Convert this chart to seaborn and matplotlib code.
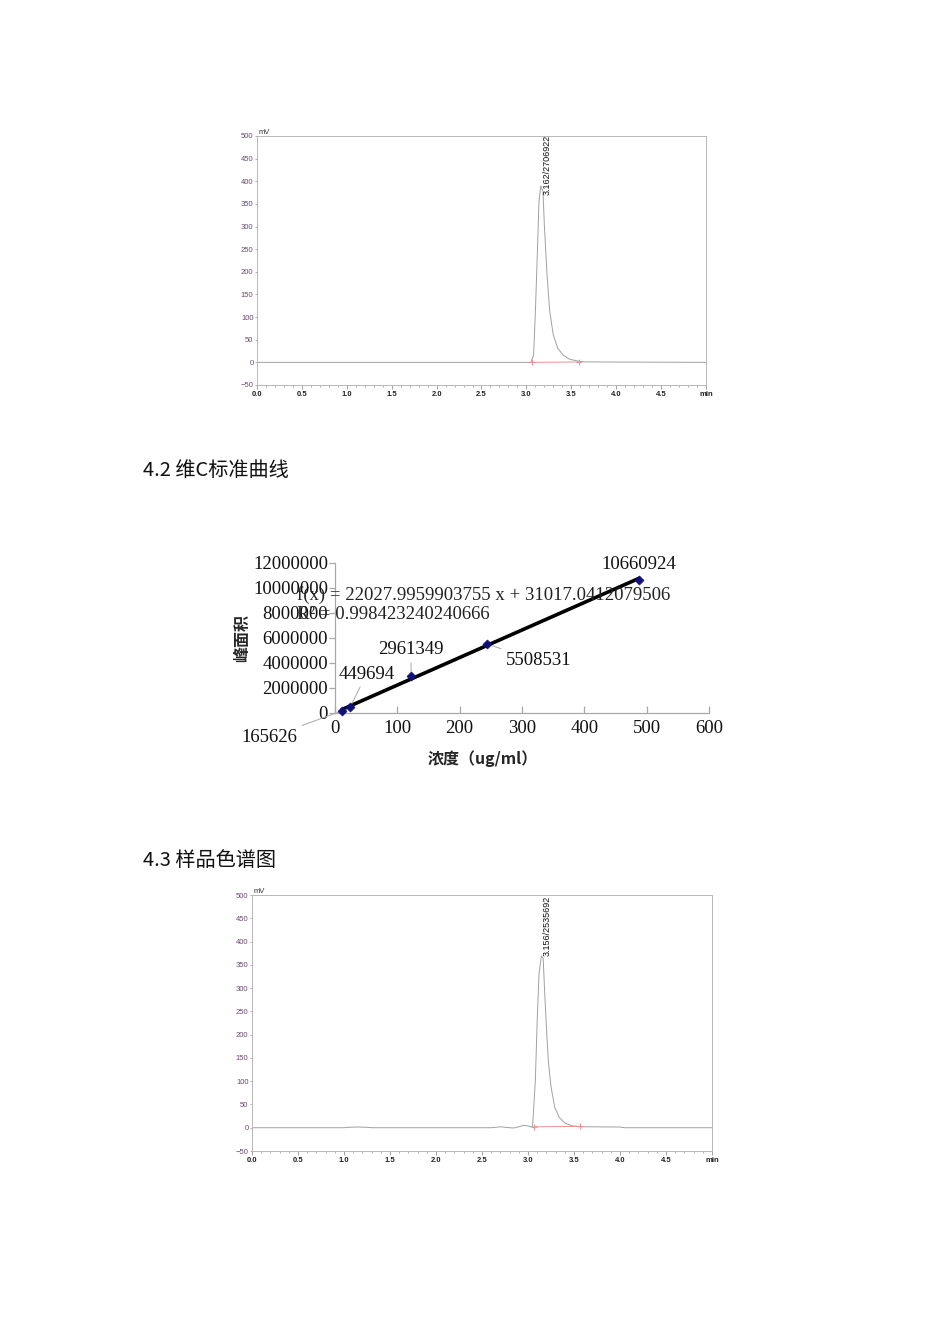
import numpy as np
import pandas as pd
import matplotlib
matplotlib.use('Agg')
import matplotlib.pyplot as plt
from matplotlib.ticker import MultipleLocator
import seaborn as sns

sns.set_theme(style='white')
plt.rcParams['font.family'] = ['Noto Sans CJK SC', 'DejaVu Sans']

# standard chromatogram (time in min, signal in mV)
std_time = [0.0, 3.05, 3.08, 3.10, 3.12, 3.14, 3.16, 3.185, 3.20, 3.23, 3.26,
            3.30, 3.35, 3.41, 3.48, 3.57, 3.65, 5.0]
std_signal = [0, 0, 16, 112, 230, 355, 390, 377, 303, 193, 112,
              60, 31, 16, 7, 3, 1, 0]
std_base_t = [3.06, 3.59]
std_base_v = [0, 1]
std_label = '3.162/2706922'

# sample chromatogram
smp_time = [0.0, 1.0, 1.05, 1.15, 1.25, 1.3, 2.6, 2.65, 2.7, 2.75, 2.8, 2.85,
            2.9, 2.95, 3.0, 3.03, 3.05, 3.08, 3.10, 3.12, 3.145, 3.165, 3.18,
            3.20, 3.22, 3.25, 3.29, 3.34, 3.40, 3.48, 3.57, 3.65, 4.0, 4.05, 5.0]
smp_signal = [0, 0, 1, 1.5, 1, 0, 0, 1, 2, 1, 0, -0.5,
              2, 5, 4, 2, 3, 102, 231, 331, 369, 364, 296,
              217, 145, 88, 44, 22, 10, 4, 2, 2, 1.5, 0, 0]
smp_base_t = [3.06, 3.57]
smp_base_v = [2, 3]
smp_label = '3.156/2535692'

# vitamin C standard curve
conc = [11, 24, 122, 244, 488]
area = [165626, 449694, 2961349, 5508531, 10660924]
slope = 22027.9959903755
intercept = 31017.0412079506
r2_text = '0.998423240240666'
# label offsets (points) for each data label
lab_dx = [-52, 12, 0, 37, 0]
lab_dy = [-19, 24, 19, -12, 11]
lab_leader = [True, True, True, True, False]

W, H = 950, 1344
fig = plt.figure(figsize=(W / 100, H / 100), dpi=100)
fig.patch.set_facecolor('white')


def chromatogram(rect, t, v, bt, bv, label, lab_off):
    ax = fig.add_axes(rect)
    df = pd.DataFrame({'t': t, 'v': v})
    sns.lineplot(data=df, x='t', y='v', ax=ax, color='#a0a0a0', lw=0.7,
                 estimator=None, sort=False)
    ax.plot(bt, bv, color='#f09090', lw=0.7, marker='+', ms=4, mew=0.7)
    ax.set_xlim(0, 5.0)
    ax.set_ylim(-50, 500)
    ax.set_xlabel('')
    ax.set_ylabel('')
    ax.xaxis.set_minor_locator(MultipleLocator(0.1))
    ax.yaxis.set_major_locator(MultipleLocator(50))
    ticks = np.arange(0, 5.01, 0.5)
    ax.set_xticks(ticks)
    ax.set_xticklabels(['%.1f' % x for x in ticks[:-1]] + ['min'])
    for s in ax.spines.values():
        s.set_color('#b8b8b8')
        s.set_linewidth(0.7)
    ax.tick_params(axis='x', which='major', direction='out', length=3,
                   width=0.6, color='#9a8aa0', labelsize=5.5, pad=1,
                   labelcolor='#222222', bottom=True)
    ax.tick_params(axis='x', which='minor', direction='out', length=1.5,
                   width=0.5, color='#9a8aa0', bottom=True)
    ax.tick_params(axis='y', which='major', direction='out', length=1.5,
                   width=0.5, color='#9a8aa0', labelsize=5.5, pad=1,
                   labelcolor='#6a4a72', left=True)
    for lb in ax.get_xticklabels():
        lb.set_family(['Liberation Sans', 'DejaVu Sans'])
        lb.set_fontweight('bold')
    for lb in ax.get_yticklabels():
        lb.set_family(['Liberation Sans', 'DejaVu Sans'])
    ax.text(0.004, 1.0, 'mV', transform=ax.transAxes, ha='left', va='bottom',
            fontsize=5.5, color='#333333', family='Liberation Sans')
    i = int(np.argmax(v))
    ax.annotate(label, xy=(t[i], v[i]), xytext=lab_off,
                textcoords='offset points', rotation=90, ha='center',
                va='bottom', fontsize=6.5, color='#111111',
                family='Liberation Sans', annotation_clip=False)
    return ax


chromatogram([257 / W, 1 - 385 / H, 449 / W, 249 / H],
             std_time, std_signal, std_base_t, std_base_v, std_label, (4.3, -6.5))
chromatogram([252 / W, 1 - 1151 / H, 460 / W, 256 / H],
             smp_time, smp_signal, smp_base_t, smp_base_v, smp_label, (4.0, 0))

# headings
fig.text(143 / W, 1 - 471 / H, '4.2 维C标准曲线', ha='left', va='center',
         fontsize=14.5, color='#111111')
fig.text(143 / W, 1 - 861 / H, '4.3 样品色谱图', ha='left', va='center',
         fontsize=14.5, color='#111111')

# standard curve
ax = fig.add_axes([335 / W, 1 - 713 / H, 374 / W, 150 / H])
cdf = pd.DataFrame({'conc': conc, 'area': area})
fit = pd.DataFrame({'conc': [min(conc), max(conc)]})
fit['area'] = slope * fit['conc'] + intercept
sns.lineplot(data=fit, x='conc', y='area', ax=ax, color='black', lw=2.6)
sns.scatterplot(data=cdf, x='conc', y='area', ax=ax, marker='D', s=22,
                color='#10107a', edgecolor='#10107a', zorder=5, clip_on=False)
ax.set_xlim(0, 600)
ax.set_ylim(0, 12000000)
ax.set_xticks(range(0, 601, 100))
ax.set_yticks(range(0, 12000001, 2000000))
ax.set_yticklabels([str(v) for v in range(0, 12000001, 2000000)])
for side in ['top', 'right']:
    ax.spines[side].set_visible(False)
for side in ['left', 'bottom']:
    ax.spines[side].set_color('#a8a8a8')
    ax.spines[side].set_linewidth(0.9)
ax.tick_params(axis='x', direction='in', length=5, width=0.9, color='#a8a8a8',
               labelsize=13.5, pad=5, bottom=True)
ax.tick_params(axis='y', direction='out', length=4, width=0.9, color='#a8a8a8',
               labelsize=13.5, pad=1, left=True)
for lb in ax.get_xticklabels() + ax.get_yticklabels():
    lb.set_family(['Liberation Serif', 'DejaVu Serif'])
    lb.set_color('#111111')

for x, y, dx, dy, ld in zip(conc, area, lab_dx, lab_dy, lab_leader):
    ap = dict(arrowstyle='-', color='#a8a8a8', lw=0.7, shrinkA=1, shrinkB=3) if ld else None
    ax.annotate(str(y), xy=(x, y), xytext=(dx, dy), textcoords='offset points',
                ha='center', va='center', fontsize=13.5, color='#111111',
                family=['Liberation Serif', 'DejaVu Serif'], arrowprops=ap,
                annotation_clip=False)

ax.text(-61, 9440000, 'f(x) = %s x + %s' % (repr(slope), repr(intercept)),
        ha='left', va='center', fontsize=13.5, color='#222222',
        family=['Liberation Serif', 'DejaVu Serif'])
ax.text(-61, 7840000, 'R² = ' + r2_text, ha='left', va='center',
        fontsize=13.5, color='#222222',
        family=['Liberation Serif', 'DejaVu Serif'])
ax.set_xlabel('浓度（ug/ml）', fontsize=11.5, fontweight='bold')
ax.xaxis.set_label_coords(0.396, -0.25)
ax.set_ylabel('峰面积', fontsize=11.5, fontweight='bold', labelpad=2)

fig.savefig('out.png', dpi=100, facecolor='white')
